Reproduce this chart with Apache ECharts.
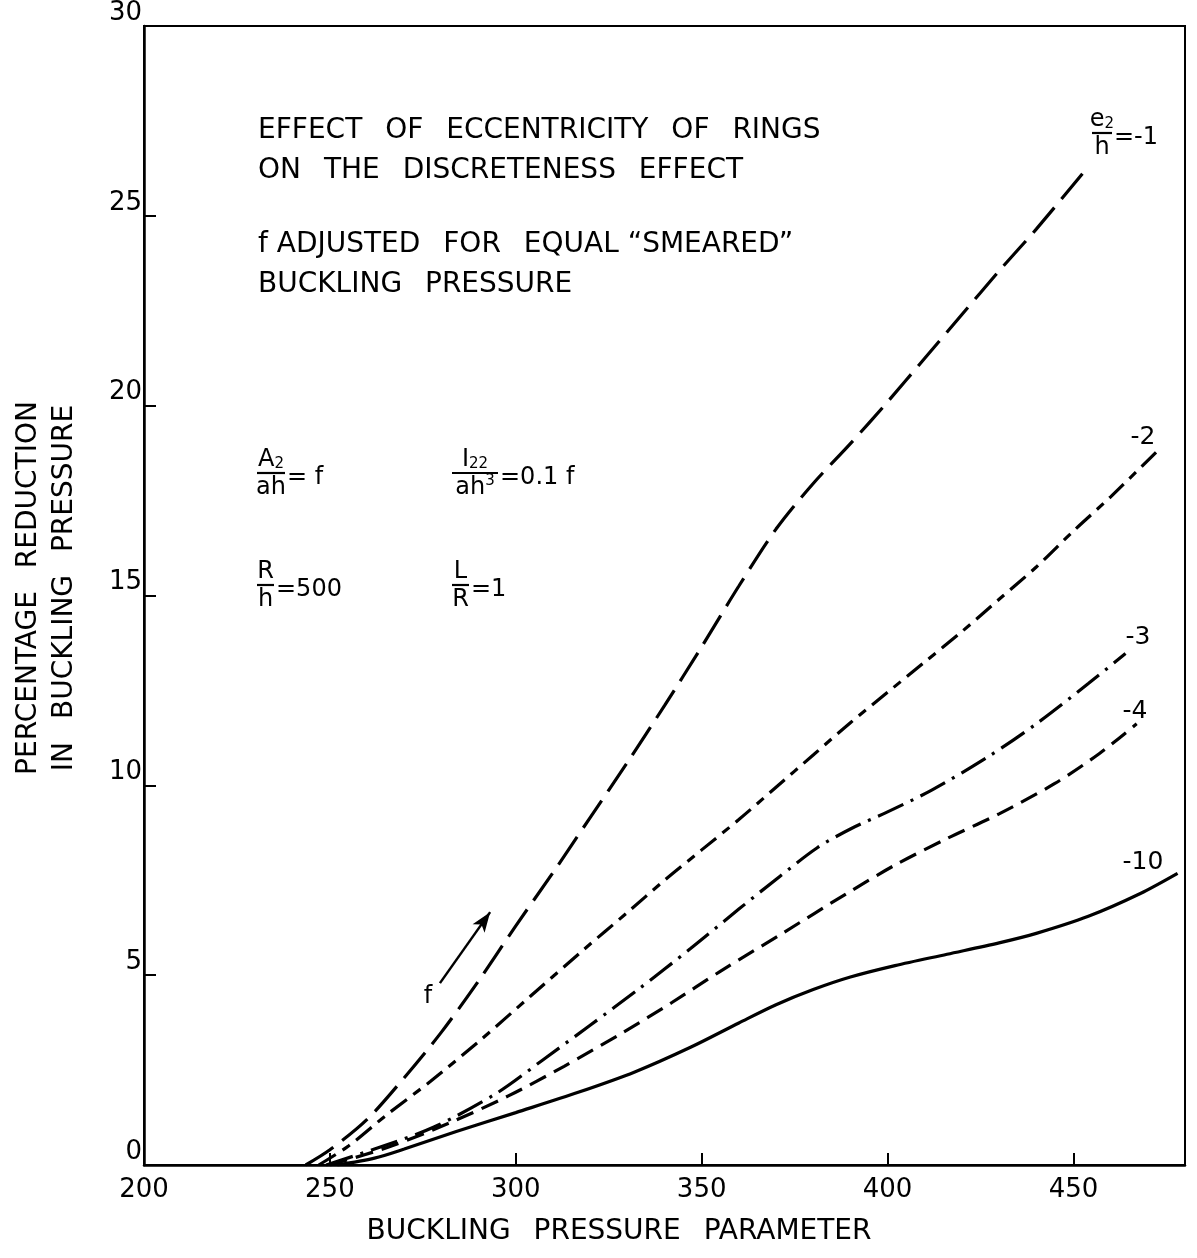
<!DOCTYPE html>
<html>
<head>
<meta charset="utf-8">
<script src="https://cdn.jsdelivr.net/npm/echarts@6/dist/echarts.min.js"></script>
<style>
html,body{margin:0;padding:0;background:#fff;}
#c{width:1197px;height:1258px;}
</style>
</head>
<body>
<div id="c"></div>
<script>
// ---- data ----
var xTicks = [200, 250, 300, 350, 400, 450];
var yTicks = [0, 5, 10, 15, 20, 25, 30];

var curveLabels = ['-1', '-2', '-3', '-4', '-10'];

var e1 = [[243.5,0],[250,0.4],[260,1.2],[270,2.3],[280,3.5],[290,4.85],[300,6.3],[310,7.7],[320,9.15],[330,10.6],[340,12.1],[350,13.65],[360,15.25],[370,16.75],[380,17.95],[390,19.0],[400,20.1],[410,21.25],[420,22.4],[430,23.55],[440,24.65],[454,26.3]];
var e2 = [[247,0],[255,0.5],[265,1.3],[277,2.2],[290,3.25],[304,4.45],[318,5.65],[330,6.65],[340,7.5],[350,8.3],[360,9.1],[370,9.95],[380,10.8],[390,11.65],[400,12.45],[410,13.25],[420,14.05],[430,14.9],[440,15.75],[450,16.7],[460,17.6],[473,18.85]];
var e3 = [[249,0],[262,0.42],[278,1.0],[295,1.9],[308,2.82],[320,3.68],[333,4.63],[347,5.7],[360,6.74],[371,7.6],[381,8.35],[390,8.85],[400,9.3],[412,9.88],[427,10.75],[440,11.62],[454,12.68],[464,13.47]];
var e4 = [[250,0],[266,0.48],[282,1.1],[298,1.82],[313,2.6],[329,3.5],[342,4.28],[355,5.1],[372,6.12],[389,7.15],[402,7.9],[416,8.6],[430,9.25],[445,10.05],[457,10.84],[467,11.62]];
var e10 = [[252,0],[262,0.18],[270,0.42],[284,0.88],[300,1.38],[317,1.92],[332,2.45],[347,3.1],[360,3.74],[370,4.22],[380,4.62],[390,4.95],[402,5.25],[416,5.55],[430,5.85],[440,6.1],[454,6.55],[468,7.15],[478,7.68]];

// arrow "f" annotation (data coordinates)
var arrowStart = [279.6, 4.79];
var arrowEnd = [293.1, 6.66];

var GAP = ' \u2002';
var titleLines = [
  ['EFFECT', 'OF', 'ECCENTRICITY', 'OF', 'RINGS'].join(GAP),
  ['ON', 'THE', 'DISCRETENESS', 'EFFECT'].join(GAP),
  'f ' + ['ADJUSTED', 'FOR', 'EQUAL'].join(GAP) + ' \u201CSMEARED\u201D',
  ['BUCKLING', 'PRESSURE'].join(GAP)
];
var xName = ['BUCKLING', 'PRESSURE', 'PARAMETER'].join(GAP);
var yName = ['PERCENTAGE', 'REDUCTION'].join(GAP) + '\n' + ['IN', 'BUCKLING', 'PRESSURE'].join(GAP);

// ---- chart ----
var FONT = 'DejaVu Sans';
var chart = echarts.init(document.getElementById('c'), null, {renderer: 'canvas'});

function seriesOf(name, data, dash) {
  return {
    name: name, type: 'line', data: data, showSymbol: false, smooth: 0.3,
    silent: true, animation: false,
    lineStyle: {color: '#000', width: 3.2, type: dash, cap: 'butt'}
  };
}

function textEl(txt, x, y, size, align, vAlign) {
  return {type: 'text', x: x, y: y, silent: true,
    style: {text: txt, fill: '#000', font: size + 'px "' + FONT + '"', textAlign: align || 'left', textVerticalAlign: vAlign || 'middle'}};
}

function richEl(txt, x, y, size, align, vAlign) {
  var small = Math.round(size * 0.62);
  return {type: 'text', x: x, y: y, silent: true,
    style: {text: txt, fill: '#000', fontFamily: FONT, fontSize: size, align: align || 'left', verticalAlign: vAlign || 'middle',
      rich: {
        m: {fontFamily: FONT, fontSize: size, fill: '#000', lineHeight: size + 2, verticalAlign: 'bottom'},
        s: {fontFamily: FONT, fontSize: small, fill: '#000', lineHeight: size + 2, verticalAlign: 'bottom'},
        p: {fontFamily: FONT, fontSize: small, fill: '#000', lineHeight: size + 2, verticalAlign: 'top'}
      }}};
}

function frac(left, barY, num, den, rest, w, size) {
  var els = [];
  els.push(richEl(num, left + w / 2, barY - 1, size, 'center', 'bottom'));
  els.push({type: 'line', silent: true, shape: {x1: left, y1: barY, x2: left + w, y2: barY}, style: {stroke: '#000', lineWidth: 2.2}});
  els.push(richEl(den, left + w / 2, barY + 1, size, 'center', 'top'));
  els.push(textEl(rest, left + w + 2, barY + 5, size, 'left', 'middle'));
  return els;
}

var graphics = [];
graphics.push(textEl(titleLines[0], 258, 131, 28));
graphics.push(textEl(titleLines[1], 258, 171, 28));
graphics.push(textEl(titleLines[2], 258, 245, 28));
graphics.push(textEl(titleLines[3], 258, 285, 28));
graphics = graphics.concat(frac(257, 473, '{m|A}{s|2}', '{m|ah}', '= f', 28, 24));
graphics = graphics.concat(frac(452, 473, '{m|I}{s|22}', '{m|ah}{p|3}', '=0.1 f', 46, 24));
graphics = graphics.concat(frac(257, 585, '{m|R}', '{m|h}', '=500', 17, 24));
graphics = graphics.concat(frac(452, 585, '{m|L}', '{m|R}', '=1', 17, 24));
graphics = graphics.concat(frac(1092, 133, '{m|e}{s|2}', '{m|h}', '=' + curveLabels[0], 20, 24));
graphics.push(textEl(curveLabels[1], 1143, 437, 25, 'center'));
graphics.push(textEl(curveLabels[2], 1138, 637, 25, 'center'));
graphics.push(textEl(curveLabels[3], 1135, 711, 25, 'center'));
graphics.push(textEl(curveLabels[4], 1143, 862, 25, 'center'));
graphics.push(textEl('f', 428, 997, 24, 'center'));
graphics.push(textEl(xName, 619, 1232, 28, 'center'));
graphics.push({type: 'text', x: 47, y: 588, rotation: Math.PI / 2, silent: true,
  style: {text: yName, fill: '#000', font: '28px "' + FONT + '"', textAlign: 'center', textVerticalAlign: 'middle', lineHeight: 36}});

var s1 = seriesOf(curveLabels[0], e1, [33, 11]);
s1.markLine = {
  silent: true, symbol: ['none', 'arrow'], symbolSize: [11, 20], label: {show: false},
  lineStyle: {color: '#000', width: 2.5, type: 'solid'},
  data: [[{coord: arrowStart}, {coord: arrowEnd}]], animation: false
};

chart.setOption({
  animation: false,
  backgroundColor: '#fff',
  grid: {left: 144, right: 12, top: 25, bottom: 93, show: true, borderColor: '#000', borderWidth: 2},
  xAxis: {
    type: 'value', min: xTicks[0], max: 480, interval: 50,
    axisLine: {show: true, onZero: false, lineStyle: {color: '#000', width: 2.5}},
    axisTick: {show: true, inside: true, length: 12, lineStyle: {color: '#000', width: 2}},
    splitLine: {show: false},
    axisLabel: {show: true, color: '#000', fontFamily: FONT, fontSize: 26, margin: 12, showMaxLabel: false,
      formatter: function (v) { return xTicks.indexOf(v) >= 0 ? String(v) : ''; }}
  },
  yAxis: {
    type: 'value', min: yTicks[0], max: yTicks[yTicks.length - 1], interval: 5,
    axisLine: {show: true, lineStyle: {color: '#000', width: 2.5}},
    axisTick: {show: true, inside: true, length: 12, lineStyle: {color: '#000', width: 2}},
    splitLine: {show: false},
    axisLabel: {show: true, color: '#000', fontFamily: FONT, fontSize: 26, margin: 2, verticalAlign: 'bottom'}
  },
  graphic: graphics,
  series: [
    s1,
    seriesOf(curveLabels[1], e2, [20, 8, 9, 8]),
    seriesOf(curveLabels[2], e3, [28, 8, 3, 8]),
    seriesOf(curveLabels[3], e4, [18, 9]),
    seriesOf(curveLabels[4], e10, 'solid')
  ]
});
</script>
</body>
</html>
